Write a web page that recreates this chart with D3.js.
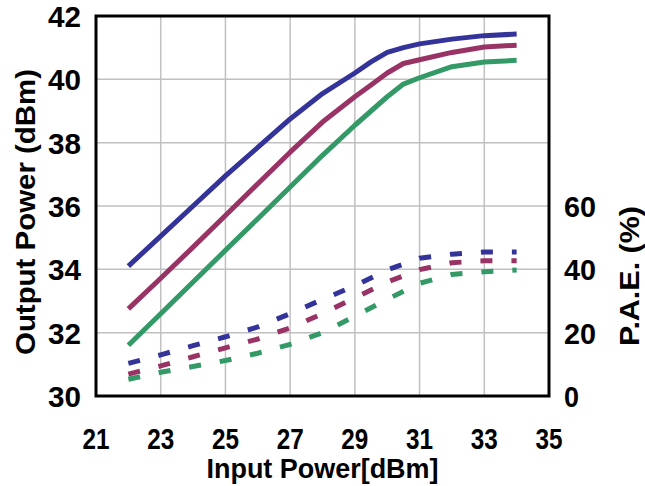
<!DOCTYPE html>
<html><head><meta charset="utf-8">
<script src="https://cdn.jsdelivr.net/npm/d3@7"></script>
<style>body{margin:0;background:#fff}svg{display:block}</style>
</head><body><svg id="c" width="645" height="486"></svg>
<script>
const xTicks = [21,23,25,27,29,31,33,35];
const yLeftTicks = [30,32,34,36,38,40,42];
const yRightTicks = [0,20,40,60];
const pinPout = [22,23,24,25,26,27,28,29,29.5,30,30.5,31,32,33,34];
const poutBlue    = [34.1,35.05,36.0,36.95,37.85,38.75,39.55,40.2,40.55,40.85,41.0,41.12,41.27,41.38,41.43];
const poutMagenta = [32.75,33.72,34.7,35.7,36.7,37.7,38.65,39.45,39.82,40.2,40.5,40.62,40.85,41.02,41.08];
const poutGreen   = [31.6,32.6,33.6,34.6,35.6,36.6,37.6,38.55,39.0,39.45,39.85,40.05,40.4,40.55,40.6];
const pinPae = [22,23,24,25,26,27,28,29,30,31,32,33,34];
const paeBlue    = [10.3,13.0,15.9,18.7,21.8,26.0,30.5,34.8,39.8,43.5,44.8,45.5,45.5];
const paeMagenta = [6.9,9.5,12.4,15.2,18.0,21.5,26.0,31.0,36.0,39.9,42.1,42.7,42.7];
const paeGreen   = [5.3,7.5,9.3,11.2,13.5,16.3,20.0,25.2,30.5,35.6,38.4,39.2,39.8];
const colors = {blue:"#333399", magenta:"#993366", green:"#339966"};

const L=96,R=549,T=16,B=396;
const svg=d3.select("#c");
const x=d3.scaleLinear().domain([21,35]).range([L,R]);
const yL=d3.scaleLinear().domain([30,42]).range([B,T]);
const yR=d3.scaleLinear().domain([0,120]).range([B,T]);
const font="'Liberation Sans', Arial, sans-serif";

// grid
const g=svg.append("g");
g.selectAll(".vg").data(xTicks.slice(1,-1)).join("line")
 .attr("x1",d=>x(d)).attr("x2",d=>x(d)).attr("y1",T).attr("y2",B)
 .attr("stroke","#c0c0c0").attr("stroke-width",1.5);
g.selectAll(".hg").data(yLeftTicks.slice(1,-1)).join("line")
 .attr("x1",L).attr("x2",R).attr("y1",d=>yL(d)).attr("y2",d=>yL(d))
 .attr("stroke","#c0c0c0").attr("stroke-width",1.5);

// lines
const lineL=d3.line().x(d=>x(d[0])).y(d=>yL(d[1]));
const lineR=d3.line().x(d=>x(d[0])).y(d=>yR(d[1]));
[[poutGreen,colors.green],[poutMagenta,colors.magenta],[poutBlue,colors.blue]].forEach(([v,c])=>{
  svg.append("path").attr("d",lineL(pinPout.map((p,i)=>[p,v[i]])))
   .attr("fill","none").attr("stroke",c).attr("stroke-width",5).attr("stroke-linejoin","round");
});
[[paeGreen,colors.green],[paeMagenta,colors.magenta],[paeBlue,colors.blue]].forEach(([v,c])=>{
  svg.append("path").attr("d",lineR(pinPae.map((p,i)=>[p,v[i]])))
   .attr("fill","none").attr("stroke",c).attr("stroke-width",5).attr("stroke-dasharray","12,19");
});

// frame
svg.append("rect").attr("x",L).attr("y",T).attr("width",R-L).attr("height",B-T)
 .attr("fill","none").attr("stroke","#000").attr("stroke-width",3);

function txt(xp,yp,s,anchor,size,len,rot){
  const t=svg.append("text").attr("transform",`translate(${xp},${yp})`+(rot?` rotate(${rot})`:""))
   .attr("text-anchor",anchor).attr("font-family",font).attr("font-weight","bold")
   .attr("font-size",size).attr("fill","#000").text(s);
  if(len) t.attr("textLength",len).attr("lengthAdjust","spacingAndGlyphs");
}
// axes: bottom axis via d3, labels styled
const ax=svg.append("g").attr("transform",`translate(0,${B})`)
 .call(d3.axisBottom(x).tickValues(xTicks).tickSize(0).tickPadding(0).tickFormat(""));
ax.select(".domain").remove();
xTicks.forEach(t=>txt(x(t),449,String(t),"middle",29,27));
yLeftTicks.forEach(t=>txt(81,yL(t)+11,String(t),"end",30,33));
yRightTicks.forEach(t=>txt(564,yR(t)+11,String(t),"start",30,t===0?15:32));
txt((L+R)/2,478,"Input Power[dBm]","middle",27,232);
txt(35,212,"Output Power (dBm)","middle",27,286,-90);
txt(639,276,"P.A.E. (%)","middle",27,140,-90);
</script></body></html>
